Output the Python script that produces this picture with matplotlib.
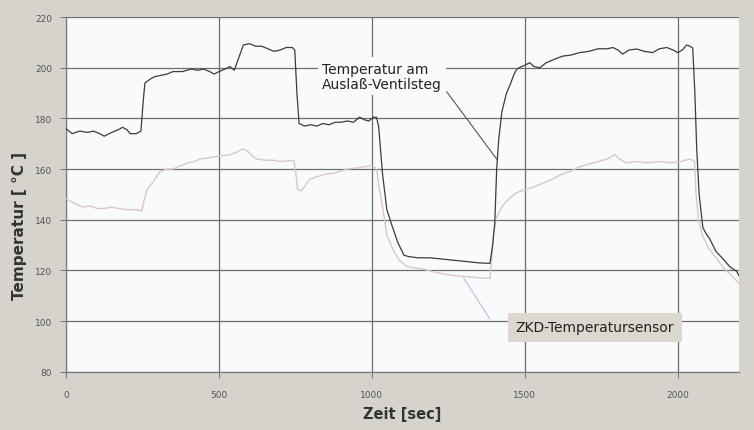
import matplotlib.pyplot as plt

# Temperatur am Auslass-Ventilsteg (dunkle Kurve)
t_ventil = [0, 20, 45, 70, 90, 110, 125, 150, 170, 185, 200, 210, 230, 245,
            252, 258, 275, 290, 310, 330, 350, 380, 410, 430, 450, 470, 485,
            500, 520, 536, 550, 565, 580, 600, 620, 640, 660, 680, 700, 720,
            740, 748, 755, 762, 780, 800, 820, 840, 860, 880, 900, 920, 940,
            960, 975, 990, 1005, 1015, 1022, 1035, 1049, 1065, 1085, 1105,
            1120, 1150, 1190, 1230, 1270, 1310, 1350, 1386, 1395, 1402, 1408,
            1415, 1425, 1440, 1451, 1465, 1474, 1490, 1500, 1516, 1530, 1549,
            1570, 1600, 1624, 1650, 1680, 1710, 1740, 1770, 1788, 1805, 1820,
            1840, 1866, 1890, 1918, 1940, 1964, 1985, 2000, 2015, 2029, 2040,
            2049, 2056, 2062, 2070, 2082, 2095, 2104, 2125, 2147, 2170, 2193,
            2200]
T_ventil = [176, 174, 175, 174.5, 175, 174, 173, 174.5, 175.5, 176.5, 175.5,
            174, 174, 175, 186, 194, 195.5, 196.5, 197, 197.5, 198.5, 198.5,
            199.5, 199, 199.5, 198.5, 197.5, 198.5, 199.5, 200.5, 199, 204,
            209, 209.5, 208.5, 208.5, 207.5, 206.5, 207, 208, 208, 207, 190,
            178, 177, 177.5, 177, 178, 177.5, 178.5, 178.5, 179, 178.5, 180.5,
            179.5, 179, 180.5, 180.5, 177, 158, 144, 138, 131, 126, 125.5, 125,
            125, 124.5, 124, 123.5, 123, 122.8, 130, 139, 160, 172, 182.6, 190,
            193, 197.5, 199.5, 200.5, 201, 202, 200.5, 200, 202, 203.5, 204.6,
            205, 206, 206.5, 207.5, 207.5, 208, 207, 205.4, 207, 207.4, 206.5,
            206, 207.5, 208, 207, 206, 207, 209, 208.5, 207.8, 190, 168, 150,
            137, 134, 132.6, 127.5, 124.7, 121.5, 119.6, 118]

# ZKD-Temperatursensor (helle Kurve)
t_zkd = [0, 20, 56, 80, 100, 121, 150, 176, 200, 225, 248, 256, 265, 285,
         307, 330, 350, 373, 400, 420, 438, 470, 503, 530, 555, 578, 595, 610,
         624, 650, 680, 700, 732, 745, 752, 757, 770, 785, 797, 820, 850, 880,
         918, 950, 980, 1003, 1015, 1025, 1035, 1049, 1070, 1090, 1114, 1140,
         1170, 1200, 1240, 1280, 1320, 1360, 1386, 1392, 1398, 1408, 1425,
         1445, 1470, 1490, 1506, 1530, 1560, 1590, 1620, 1647, 1680, 1710,
         1740, 1770, 1794, 1810, 1830, 1866, 1900, 1940, 1980, 2010, 2040,
         2055, 2060, 2068, 2080, 2100, 2125, 2150, 2175, 2200]
T_zkd = [148.3, 147, 145, 145.5, 144.5, 144.4, 145, 144.4, 144, 144, 143.6,
         148, 152, 155, 159, 160, 160, 161.3, 162.5, 163, 164, 164.5, 165.3,
         165.5, 166.5, 168, 167, 165, 164, 163.5, 163.5, 163, 163.3, 163.5,
         158, 152, 151.5, 154, 156, 157, 158, 158.5, 160, 160.5, 161, 161.3,
         160, 152, 145, 133.8, 128, 124, 121.6, 121, 120.5, 119.5, 118.5,
         117.8, 117.5, 117, 116.9, 125, 135, 141, 145, 148, 150.5, 151.5, 152,
         153, 154.5, 156, 158, 159, 161, 162, 163, 164, 165.7, 164, 162.5,
         163, 162.5, 163, 162.5, 163, 164, 163, 150, 140, 134, 129, 125, 121,
         118, 115]

x_ticks = [0, 500, 1000, 1500, 2000]
y_ticks = [80, 100, 120, 140, 160, 180, 200, 220]

fig = plt.figure(figsize=(7.54, 4.31), dpi=100)
fig.patch.set_facecolor('#d6d3cc')
ax = fig.add_axes([0.0875, 0.135, 0.8925, 0.823])
ax.set_facecolor('#f8fafc')

ax.plot(t_zkd, T_zkd, color='#dcc4d2', linewidth=1.0, zorder=3)
ax.plot(t_ventil, T_ventil, color='#3c3c3c', linewidth=0.9, zorder=4)

ax.set_xlim(0, 2200)
ax.set_ylim(80, 220)
ax.set_xticks(x_ticks)
ax.set_yticks(y_ticks)
ax.grid(True, color='#6e6e6e', linewidth=0.9, zorder=1)
ax.set_axisbelow(True)

for side in ['top', 'right']:
    ax.spines[side].set_visible(False)
for side in ['left', 'bottom']:
    ax.spines[side].set_color('#7a7a7a')
    ax.spines[side].set_linewidth(0.9)

ax.tick_params(axis='both', labelsize=6.5, labelcolor='#555555', color='#7a7a7a', length=4)
ax.tick_params(axis='y', pad=6)
ax.tick_params(axis='x', pad=9)

ax.set_xlabel('Zeit [sec]', fontsize=10.5, fontweight='bold', color='#333333', labelpad=5)
ax.set_ylabel('Temperatur [ °C ]', fontsize=11, fontweight='bold', color='#333333')
ax.yaxis.set_label_coords(-0.058, 0.414)

# Beschriftungen mit Hinweislinien
ax.plot([1245, 1408], [190.5, 164], color='#555555', linewidth=0.8, zorder=5)
ax.text(837, 196.6, 'Temperatur am\nAuslaß-Ventilsteg', fontsize=10, color='#222222',
        ha='left', va='center', linespacing=1.15, zorder=6,
        bbox=dict(facecolor='#f8fafc', edgecolor='none', pad=3))

ax.plot([1300, 1385], [117, 101], color='#c8b8d0', linewidth=0.8, zorder=5)
ax.text(1729, 97.6, 'ZKD-Temperatursensor', fontsize=10, color='#222222',
        ha='center', va='center', zorder=6,
        bbox=dict(facecolor='#dcd8d0', edgecolor='none', pad=5.5))

fig.savefig('out.png', dpi=100, facecolor=fig.get_facecolor())
